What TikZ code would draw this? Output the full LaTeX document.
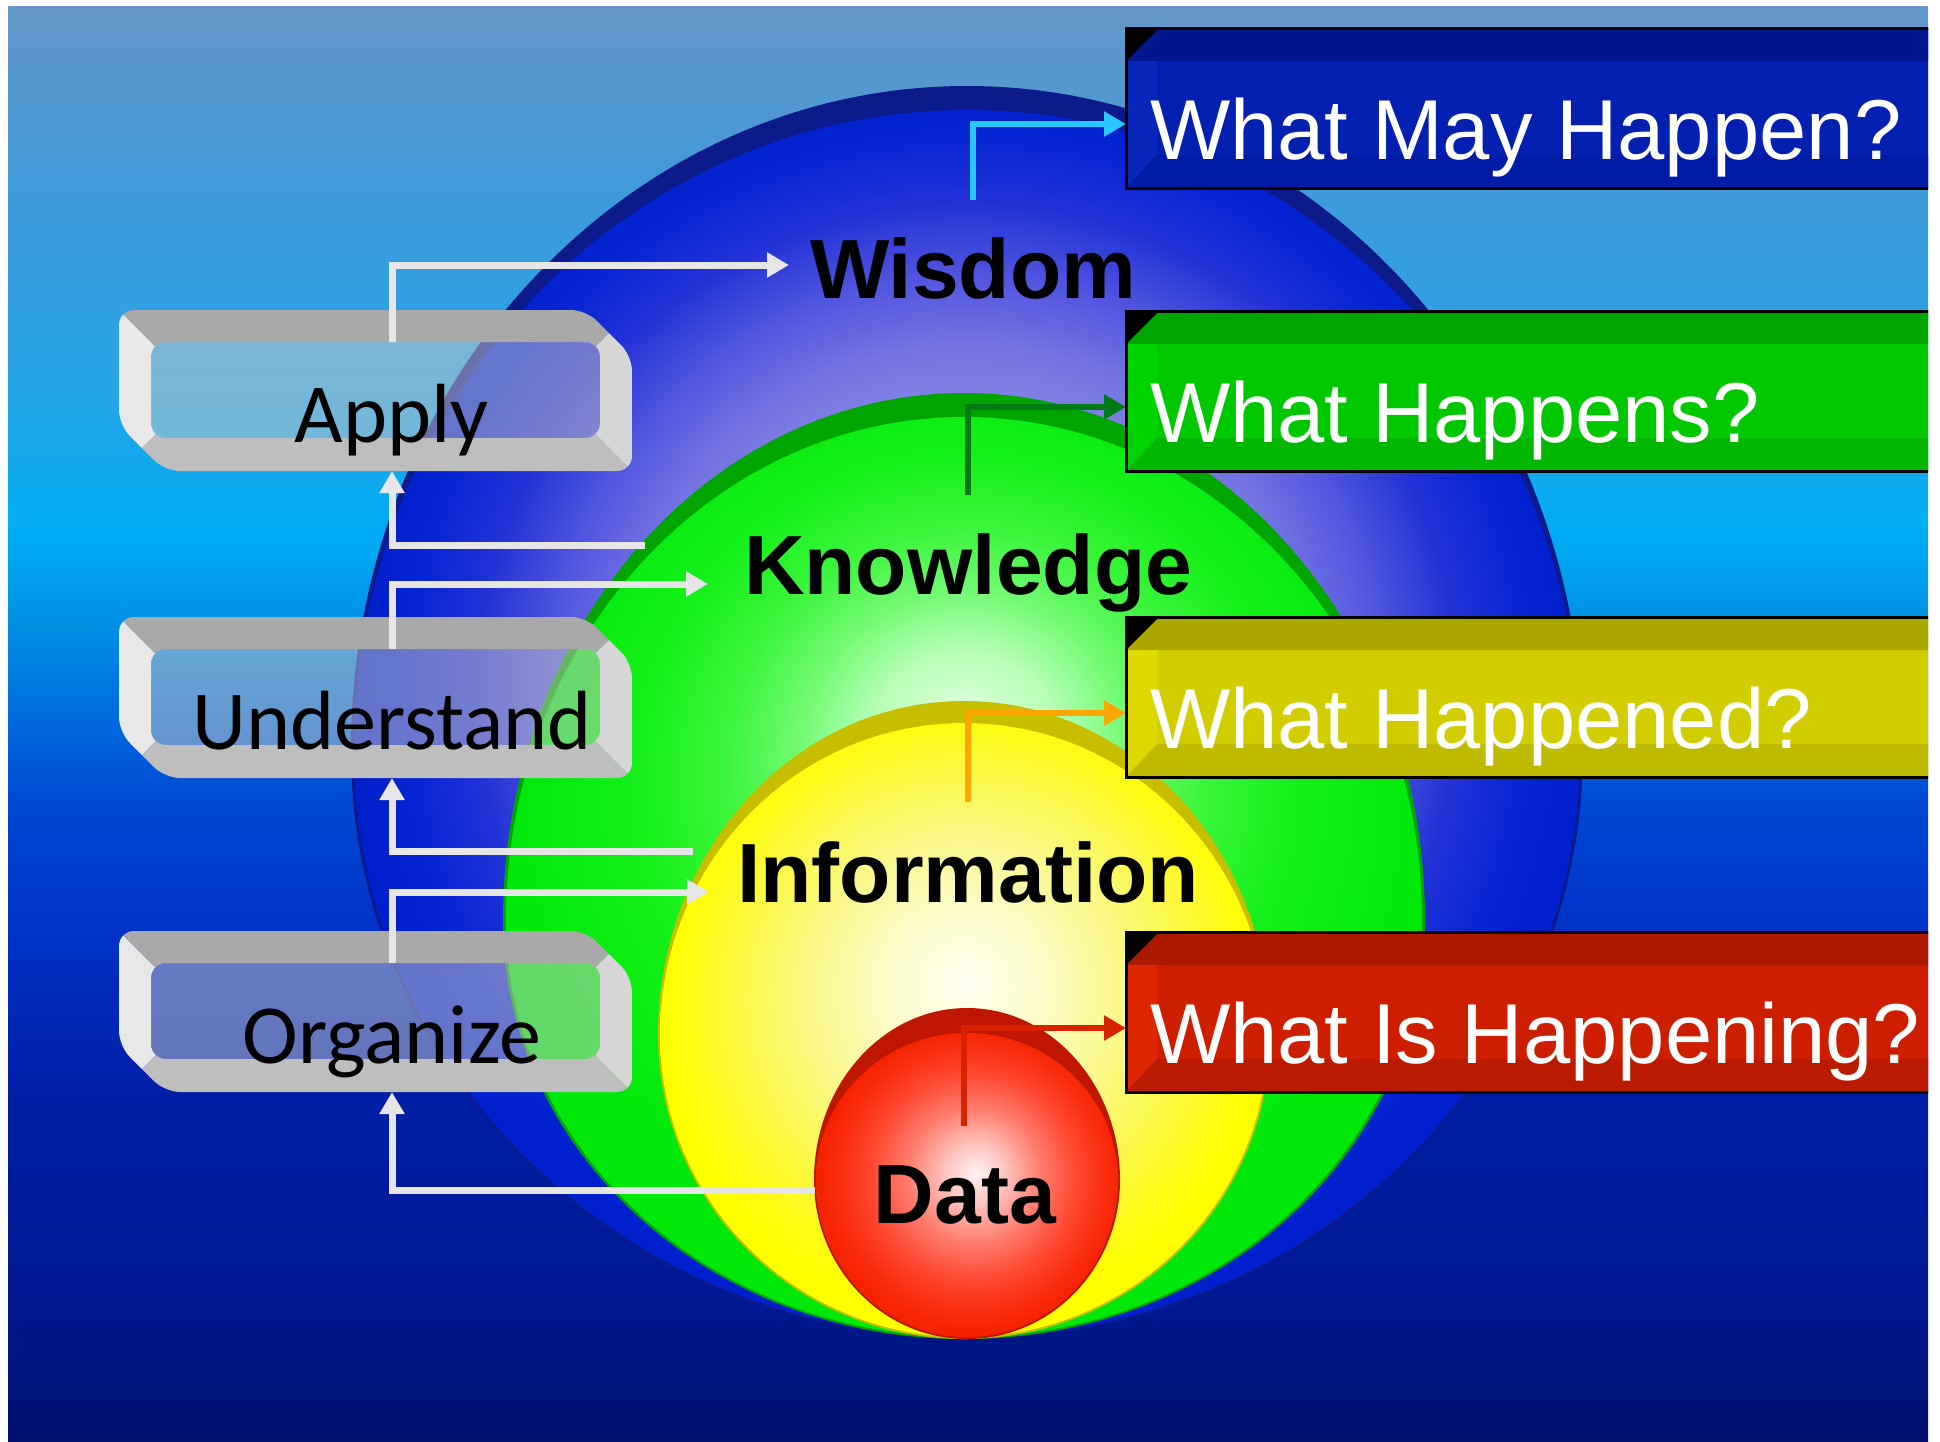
\documentclass[tikz,border=0pt]{standalone}
\usepackage{fontspec}
\usetikzlibrary{arrows.meta}
\newfontfamily\lsans{Liberation Sans}
\newfontfamily\carl{Carlito}

% colours
\definecolor{bluerim}{RGB}{12,26,140}
\definecolor{greenrim}{RGB}{0,165,0}
\definecolor{yellowrim}{RGB}{200,190,0}
\definecolor{redrim}{RGB}{190,22,0}
\definecolor{lL}{RGB}{232,232,232}
\definecolor{lT}{RGB}{169,169,169}
\definecolor{lR}{RGB}{214,214,214}
\definecolor{lB}{RGB}{190,190,190}
\definecolor{lpanel}{RGB}{200,200,200}
\definecolor{wline}{RGB}{230,230,230}
\definecolor{cyanC}{RGB}{40,200,255}
\definecolor{greenC}{RGB}{0,122,20}
\definecolor{orangeC}{RGB}{255,165,0}
\definecolor{redC}{RGB}{215,35,0}
\definecolor{q1m}{RGB}{4,32,176}\definecolor{q1t}{RGB}{0,22,140}\definecolor{q1b}{RGB}{0,28,166}\definecolor{q1l}{RGB}{8,38,188}
\definecolor{q2m}{RGB}{0,200,0}\definecolor{q2t}{RGB}{0,165,0}\definecolor{q2b}{RGB}{0,182,0}\definecolor{q2l}{RGB}{0,212,0}
\definecolor{q3m}{RGB}{210,205,0}\definecolor{q3t}{RGB}{170,168,0}\definecolor{q3b}{RGB}{190,186,0}\definecolor{q3l}{RGB}{220,216,0}
\definecolor{q4m}{RGB}{205,30,0}\definecolor{q4t}{RGB}{172,24,0}\definecolor{q4b}{RGB}{186,26,0}\definecolor{q4l}{RGB}{222,38,0}

% shadings
\pgfdeclareverticalshading{bgsh}{100bp}{%
 rgb(0bp)=(0,0.063,0.439); rgb(25bp)=(0,0.063,0.439);
 rgb(29.91bp)=(0,0.094,0.565); rgb(36.88bp)=(0,0.118,0.647);
 rgb(42.8bp)=(0,0.196,0.784); rgb(47.33bp)=(0,0.282,0.831);
 rgb(49.22bp)=(0,0.376,0.855); rgb(53.54bp)=(0,0.565,0.894);
 rgb(56.57bp)=(0,0.675,0.957); rgb(61.27bp)=(0.137,0.647,0.910);
 rgb(68.24bp)=(0.243,0.604,0.855); rgb(75bp)=(0.392,0.588,0.784);
 rgb(100bp)=(0.392,0.588,0.784)}
\pgfdeclareradialshading{wsh}{\pgfpoint{0bp}{2bp}}{%
 rgb(0bp)=(.647,.647,.941); rgb(10bp)=(.549,.549,.910);
 rgb(14bp)=(.451,.451,.886); rgb(17bp)=(.314,.333,.871);
 rgb(20bp)=(.137,.196,.843); rgb(23bp)=(.020,.141,.824);
 rgb(25bp)=(0,.125,.804); rgb(50bp)=(0,.125,.804)}
\pgfdeclareradialshading{ksh}{\pgfpoint{0bp}{8bp}}{%
 rgb(0bp)=(.894,1,.894); rgb(5bp)=(.725,1,.725);
 rgb(9bp)=(.451,.980,.451); rgb(13bp)=(.235,.961,.235);
 rgb(18bp)=(.078,.941,.098); rgb(25bp)=(0,.910,.039); rgb(50bp)=(0,.910,.039)}
\pgfdeclareradialshading{ish}{\pgfpoint{0bp}{4bp}}{%
 rgb(0bp)=(1,1,.949); rgb(6bp)=(.992,.988,.804);
 rgb(12bp)=(.980,.973,.569); rgb(18bp)=(.980,.973,.294);
 rgb(22bp)=(.988,.980,.098); rgb(25bp)=(1,1,0); rgb(50bp)=(1,1,0)}
\pgfdeclareradialshading{dsh}{\pgfpoint{1.5bp}{2bp}}{%
 rgb(0bp)=(1,.949,.949); rgb(5bp)=(1,.765,.745);
 rgb(11bp)=(1,.490,.431); rgb(17bp)=(1,.282,.196);
 rgb(22bp)=(.980,.176,.059); rgb(25bp)=(.961,.137,0); rgb(50bp)=(.961,.137,0)}

\tikzset{
 warrow/.style={draw=wline, line width=7pt, -{Triangle[length=22pt,width=24pt]}},
 carrow/.style={line width=6pt, -{Triangle[length=22pt,width=24pt]}},
 lvl/.style={font=\lsans\bfseries\fontsize{84}{90}\selectfont, anchor=base, inner sep=0pt},
 ltext/.style={font=\carl\fontsize{84}{90}\selectfont, anchor=base, inner sep=0pt},
 qtext/.style={font=\lsans\fontsize{85}{90}\selectfont, text=white, anchor=base west, inner sep=0pt},
 lboxnode/.style={minimum width=513pt, minimum height=161pt, inner sep=0pt, outer sep=0pt},
 qnode/.style={minimum width=814pt, minimum height=160pt, inner sep=0pt, outer sep=0pt},
}

\newcommand\lbox[3]{%
 \pgfmathsetmacro\ya{#2}\pgfmathsetmacro\yb{#2+161}%
 \pgfmathsetmacro\yc{#2+46}\pgfmathsetmacro\yd{#2+115}%
 \pgfmathsetmacro\ye{#2+32}\pgfmathsetmacro\yf{#2+128}%
 \pgfmathsetmacro\yg{#2+60}\pgfmathsetmacro\yh{#2+101}%
 \pgfmathsetmacro\ym{#2+80.5}\pgfmathsetmacro\yt{#2+132}%
 \begin{scope}
  \clip (119,\ya) -- (179,\yg) -- (179,\yh) -- (119,\yb) -- cycle;
  \fill[lL, even odd rule, rounded corners=15pt] (119,\ya) -- (586,\ya) -- (632,\yc) -- (632,\yb) -- (165,\yb) -- (119,\yd) -- cycle (151,\ye) rectangle (600,\yf);
 \end{scope}
 \begin{scope}
  \clip (119,\ya) -- (632,\ya) -- (572,\yg) -- (179,\yg) -- cycle;
  \fill[lT, even odd rule, rounded corners=15pt] (119,\ya) -- (586,\ya) -- (632,\yc) -- (632,\yb) -- (165,\yb) -- (119,\yd) -- cycle (151,\ye) rectangle (600,\yf);
 \end{scope}
 \begin{scope}
  \clip (632,\ya) -- (632,\yb) -- (572,\yh) -- (572,\yg) -- cycle;
  \fill[lR, even odd rule, rounded corners=15pt] (119,\ya) -- (586,\ya) -- (632,\yc) -- (632,\yb) -- (165,\yb) -- (119,\yd) -- cycle (151,\ye) rectangle (600,\yf);
 \end{scope}
 \begin{scope}
  \clip (119,\yb) -- (179,\yh) -- (572,\yh) -- (632,\yb) -- cycle;
  \fill[lB, even odd rule, rounded corners=15pt] (119,\ya) -- (586,\ya) -- (632,\yc) -- (632,\yb) -- (165,\yb) -- (119,\yd) -- cycle (151,\ye) rectangle (600,\yf);
 \end{scope}
 \fill[lpanel, fill opacity=0.5, rounded corners=15pt] (151,\ye) rectangle (600,\yf);
 \node[lboxnode] (#1) at (375.5,\ym) {};
 \node[ltext] (#1t) at (392,\yt) {#3};
}

\newcommand\qbox[7]{%
 \pgfmathsetmacro\qa{#2}\pgfmathsetmacro\qb{#2+160}%
 \pgfmathsetmacro\qc{#2+33}\pgfmathsetmacro\qd{#2+127}%
 \pgfmathsetmacro\qm{#2+80}\pgfmathsetmacro\qt{#2+131}%
 \node[qnode, fill=#3] (#1) at (1533,\qm) {};
 \fill[#4] (1159,\qa) -- (1940,\qa) -- (1940,\qc) -- (1126,\qc) -- cycle;
 \fill[black] (1126,\qa) -- (1159,\qa) -- (1126,\qc) -- cycle;
 \fill[#6] (1126,\qc) -- (1157,\qc) -- (1157,\qd) -- (1126,\qb) -- cycle;
 \fill[#5] (1126,\qb) -- (1157,\qd) -- (1940,\qd) -- (1940,\qb) -- cycle;
 \draw[line width=3pt] (#1.north west) rectangle (#1.south east);
 \node[qtext] (#1t) at (1150,\qt) {#7};
}

\begin{document}
\begin{tikzpicture}[x=1pt,y=-1pt]
\useasboundingbox (0,0) rectangle (1940,1441);
\shade[shading=bgsh] (8,6) rectangle (1928,1441);

% nested egg-shaped spheres (rim, then shaded body)
\fill[bluerim] (351,750) arc[start angle=180,end angle=360,x radius=616,y radius=664]
   arc[start angle=0,end angle=180,x radius=616,y radius=589] -- cycle;
\shade[shading=wsh] (354,750) arc[start angle=180,end angle=360,x radius=613,y radius=640]
   arc[start angle=0,end angle=180,x radius=613,y radius=587] -- cycle;
\fill[greenrim] (503,920) arc[start angle=180,end angle=360,x radius=461,y radius=527]
   arc[start angle=0,end angle=180,x radius=461,y radius=419] -- cycle;
\shade[shading=ksh] (506,920) arc[start angle=180,end angle=360,x radius=458,y radius=503]
   arc[start angle=0,end angle=180,x radius=458,y radius=417] -- cycle;
\fill[yellowrim] (658,1035) arc[start angle=180,end angle=360,x radius=306,y radius=334]
   arc[start angle=0,end angle=180,x radius=306,y radius=304] -- cycle;
\shade[shading=ish] (660,1035) arc[start angle=180,end angle=360,x radius=304,y radius=312]
   arc[start angle=0,end angle=180,x radius=304,y radius=302] -- cycle;
\fill[redrim] (814,1180) arc[start angle=180,end angle=360,x radius=153,y radius=172]
   arc[start angle=0,end angle=180,x radius=153,y radius=159] -- cycle;
\shade[shading=dsh] (816,1180) arc[start angle=180,end angle=360,x radius=151,y radius=147]
   arc[start angle=0,end angle=180,x radius=151,y radius=157] -- cycle;

% left boxes
\lbox{apply}{310}{Apply}
\lbox{understand}{617}{Understand}
\lbox{organize}{931}{Organize}

% free ends of connectors
\coordinate (wE) at (789,265);
\coordinate (kS) at (645,545);
\coordinate (kE) at (708,584);
\coordinate (iS) at (693,851);
\coordinate (iE) at (709,892);
\coordinate (dS) at (815,1190);
\coordinate (cS1) at (973,200);
\coordinate (cS2) at (968,495);
\coordinate (cS3) at (968,802);
\coordinate (cS4) at (964,1126);

% white connectors
\draw[warrow] ([xshift=16.5pt,yshift=-32pt]apply.north) |- (wE);
\draw[warrow] (kS) -| ([xshift=16.5pt]apply.south);
\draw[warrow] ([xshift=16.5pt,yshift=-32pt]understand.north) |- (kE);
\draw[warrow] (iS) -| ([xshift=16.5pt]understand.south);
\draw[warrow] ([xshift=16.5pt,yshift=-32pt]organize.north) |- (iE);
\draw[warrow] (dS) -| ([xshift=16.5pt]organize.south);

% level labels
\node[lvl] (wisdom) at (973,298) {Wisdom};
\node[lvl] (knowledge) at (968,594) {Knowledge};
\node[lvl] (information) at (968,902) {Information};
\node[lvl] (data) at (965,1223) {Data};

% right boxes
\begin{scope}
\clip (8,6) rectangle (1928,1441);
\qbox{q1}{28}{q1m}{q1t}{q1b}{q1l}{What May Happen?}
\qbox{q2}{311}{q2m}{q2t}{q2b}{q2l}{What Happens?}
\qbox{q3}{617}{q3m}{q3t}{q3b}{q3l}{What Happened?}
\qbox{q4}{932}{q4m}{q4t}{q4b}{q4l}{What Is Happening?}
\end{scope}

% coloured connectors
\draw[carrow, draw=cyanC] (cS1) |- ([yshift=-16pt]q1.west);
\draw[carrow, draw=greenC] (cS2) |- ([yshift=-16pt]q2.west);
\draw[carrow, draw=orangeC] (cS3) |- ([yshift=-16pt]q3.west);
\draw[carrow, draw=redC] (cS4) |- ([yshift=-16pt]q4.west);
\end{tikzpicture}
\end{document}
